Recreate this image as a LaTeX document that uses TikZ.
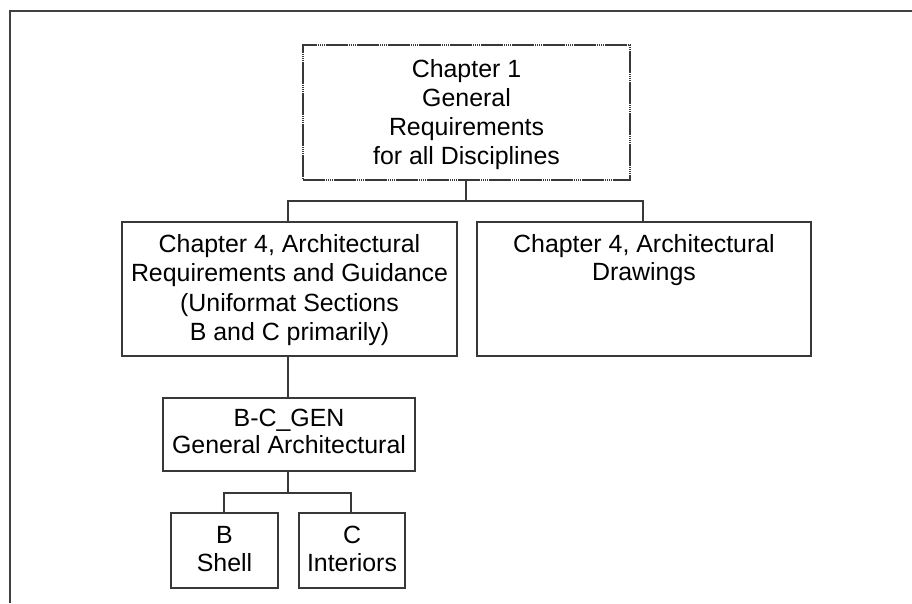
\documentclass[tikz,border=0pt]{standalone}
\usepackage{fontspec}
\setmainfont{Liberation Sans}
\newcommand{\boxtxt}[5]{\parbox[c][#2pt][t]{#1pt}{\centering\fontsize{24.9}{#4}\selectfont\vspace*{#3pt}#5}}
\begin{document}
\begin{tikzpicture}[x=1pt,y=-1pt,
  orgbox/.style={draw=black!78, line width=1.2pt, inner sep=0pt, outer sep=0pt, fill=white},
  dotbox/.style={orgbox, dash pattern=on 22pt off 1pt on 1pt off 1pt on 1pt off 1pt on 1pt off 1pt on 1pt off 1pt},
  link/.style={draw=black!78, line width=1.2pt},
  frame/.style={draw=black!75, line width=1.6pt}]
\useasboundingbox (0,0) rectangle (912,603);
\fill[white] (0,0) rectangle (912,603);
\draw[frame] (10,603) -- (10,11) -- (912,11);
% boxes
\node[dotbox, anchor=north west] (ch1) at (303,45) {\boxtxt{327}{135}{14.4}{29}{Chapter 1\\General\\Requirements\\for all Disciplines}};
\node[orgbox, anchor=north west] (arq) at (122,222) {\boxtxt{335}{134}{12.4}{29.3}{Chapter 4, Architectural\\Requirements and Guidance\\(Uniformat Sections\\B and C primarily)}};
\node[orgbox, anchor=north west] (ard) at (477,222) {\boxtxt{334}{134}{12.4}{28.5}{Chapter 4, Architectural\\Drawings}};
\node[orgbox, anchor=north west] (gen) at (163,398) {\boxtxt{252}{73}{11.4}{27}{B-C\_GEN\\General Architectural}};
\node[orgbox, anchor=north west] (shell) at (171,513) {\boxtxt{107}{75}{13.4}{28}{B\\Shell}};
\node[orgbox, anchor=north west] (int) at (299,513) {\boxtxt{106}{75}{13.4}{28}{C\\Interiors}};
% connectors
\coordinate (j1) at (466,201);
\coordinate (j2) at (288,493);
\draw[link] (ch1.south -| j1) -- (j1);
\draw[link] (arq.north -| 288,0) |- (j1) -| (ard.north -| 643,0);
\draw[link] (arq.south -| j2) -- (gen.north -| j2);
\draw[link] (gen.south -| j2) -- (j2);
\draw[link] (shell.north -| 224,0) |- (j2) -| (int.north -| 351,0);
\end{tikzpicture}
\end{document}
